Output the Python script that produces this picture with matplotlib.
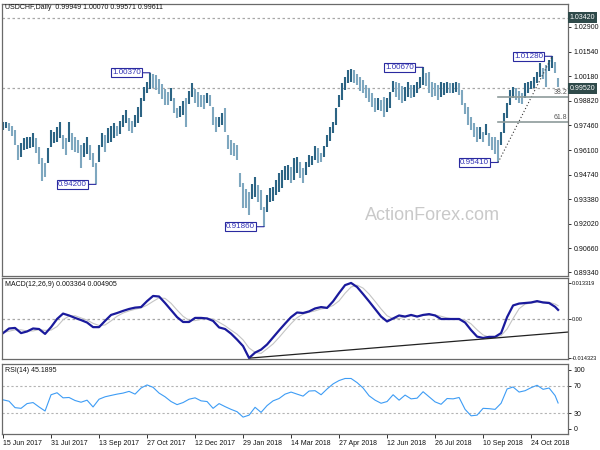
import matplotlib
matplotlib.use("Agg")
import matplotlib.pyplot as plt
import matplotlib.transforms as mtransforms
from matplotlib.collections import LineCollection
import numpy as np

plt.rcParams['font.family'] = ['Liberation Sans', 'DejaVu Sans']

# ---------------- data ----------------
symbol_header = "USDCHF,Daily  0.99949 1.00070 0.99571 0.99611"
macd_header = "MACD(12,26,9) 0.003364 0.004905"
rsi_header = "RSI(14) 45.1895"

BAR_DAYS = 2          # trading days covered by each drawn bar
bar_highs = [
    0.9766, 0.9766, 0.9757, 0.9742, 0.9721, 0.9638, 0.9647, 0.9674, 0.9684, 0.9680,
    0.9702, 0.9674, 0.9625, 0.9564, 0.9536, 0.9619, 0.9721, 0.9711, 0.9739, 0.9766,
    0.9693, 0.9674, 0.9766, 0.9702, 0.9684, 0.9665, 0.9638, 0.9650, 0.9680, 0.9638,
    0.9595, 0.9536, 0.9638, 0.9706, 0.9693, 0.9730, 0.9742, 0.9757, 0.9742, 0.9772,
    0.9803, 0.9831, 0.9785, 0.9770, 0.9803, 0.9850, 0.9895, 0.9956, 0.9987, 1.0037,
    1.0030, 1.0024, 1.0000, 0.9974, 0.9945, 0.9932, 0.9950, 0.9895, 0.9840, 0.9853,
    0.9882, 0.9895, 0.9938, 0.9982, 0.9945, 0.9932, 0.9914, 0.9914, 0.9923, 0.9914,
    0.9850, 0.9790, 0.9794, 0.9813, 0.9840, 0.9693, 0.9665, 0.9650, 0.9638, 0.9481,
    0.9426, 0.9393, 0.9380, 0.9422, 0.9463, 0.9417, 0.9389, 0.9297, 0.9361, 0.9398,
    0.9404, 0.9444, 0.9481, 0.9500, 0.9520, 0.9527, 0.9518, 0.9564, 0.9573, 0.9546,
    0.9509, 0.9546, 0.9582, 0.9577, 0.9632, 0.9619, 0.9595, 0.9632, 0.9693, 0.9735,
    0.9766, 0.9840, 0.9914, 0.9978, 1.0015, 1.0055, 1.0058, 1.0052, 1.0030, 1.0011,
    0.9996, 0.9969, 0.9950, 0.9923, 0.9895, 0.9895, 0.9886, 0.9904, 0.9895, 0.9932,
    0.9993, 0.9987, 0.9978, 0.9963, 0.9956, 0.9987, 0.9969, 0.9969, 0.9987, 1.0015,
    1.0067, 1.0037, 1.0043, 0.9987, 0.9978, 0.9969, 0.9987, 0.9978, 0.9987, 0.9978,
    0.9982, 0.9987, 0.9978, 0.9941, 0.9871, 0.9846, 0.9794, 0.9761, 0.9739, 0.9739,
    0.9711, 0.9754, 0.9702, 0.9684, 0.9680, 0.9665, 0.9711, 0.9816, 0.9871, 0.9941,
    0.9960, 0.9950, 0.9938, 0.9923, 0.9978, 0.9985, 0.9993, 1.0015, 1.0043, 1.0092,
    1.0066, 1.0079, 1.0110, 1.0128, 1.0098, 1.0007,
]
bar_lows = [
    0.9721, 0.9730, 0.9717, 0.9687, 0.9638, 0.9555, 0.9573, 0.9610, 0.9614, 0.9619,
    0.9625, 0.9592, 0.9533, 0.9441, 0.9463, 0.9536, 0.9625, 0.9647, 0.9656, 0.9674,
    0.9614, 0.9582, 0.9656, 0.9610, 0.9601, 0.9592, 0.9509, 0.9573, 0.9588, 0.9555,
    0.9518, 0.9420, 0.9546, 0.9625, 0.9601, 0.9650, 0.9656, 0.9674, 0.9687, 0.9698,
    0.9739, 0.9757, 0.9717, 0.9706, 0.9739, 0.9761, 0.9794, 0.9882, 0.9923, 0.9945,
    0.9950, 0.9942, 0.9919, 0.9890, 0.9858, 0.9858, 0.9882, 0.9813, 0.9785, 0.9790,
    0.9803, 0.9739, 0.9864, 0.9905, 0.9871, 0.9850, 0.9846, 0.9835, 0.9868, 0.9853,
    0.9748, 0.9711, 0.9739, 0.9748, 0.9711, 0.9614, 0.9582, 0.9577, 0.9555, 0.9407,
    0.9288, 0.9288, 0.9251, 0.9338, 0.9352, 0.9325, 0.9278, 0.9186, 0.9269, 0.9325,
    0.9330, 0.9361, 0.9380, 0.9400, 0.9444, 0.9444, 0.9426, 0.9444, 0.9481, 0.9454,
    0.9426, 0.9472, 0.9514, 0.9527, 0.9555, 0.9540, 0.9546, 0.9570, 0.9628, 0.9662,
    0.9702, 0.9748, 0.9849, 0.9886, 0.9941, 0.9982, 0.9987, 0.9978, 0.9967, 0.9938,
    0.9923, 0.9895, 0.9877, 0.9846, 0.9822, 0.9831, 0.9827, 0.9794, 0.9822, 0.9840,
    0.9932, 0.9904, 0.9886, 0.9868, 0.9882, 0.9904, 0.9895, 0.9904, 0.9923, 0.9950,
    0.9969, 0.9963, 0.9923, 0.9904, 0.9908, 0.9886, 0.9904, 0.9914, 0.9923, 0.9923,
    0.9923, 0.9932, 0.9914, 0.9858, 0.9809, 0.9748, 0.9720, 0.9680, 0.9656, 0.9669,
    0.9656, 0.9693, 0.9632, 0.9610, 0.9588, 0.9541, 0.9638, 0.9706, 0.9785, 0.9858,
    0.9895, 0.9886, 0.9868, 0.9864, 0.9895, 0.9926, 0.9945, 0.9950, 0.9982, 1.0015,
    1.0000, 0.9960, 1.0048, 1.0061, 1.0033, 0.9957,
]

IND_DAYS = 4          # trading days between indicator samples
macd_main = [
    -0.0052, -0.0035, -0.0033, -0.0052, -0.0046, -0.0035, -0.0037, -0.0055, -0.0030, 0.0000,
    0.0020, 0.0013, 0.0004, -0.0004, -0.0013, -0.0030, -0.0030, -0.0007, 0.0015, 0.0022,
    0.0030, 0.0037, 0.0042, 0.0044, 0.0066, 0.0085, 0.0083, 0.0059, 0.0033, 0.0007,
    -0.0011, -0.0011, 0.0004, 0.0004, 0.0002, -0.0007, -0.0031, -0.0037, -0.0054, -0.0076,
    -0.0100, -0.0144, -0.0124, -0.0113, -0.0094, -0.0068, -0.0042, -0.0017, 0.0007, 0.0024,
    0.0022, 0.0028, 0.0039, 0.0044, 0.0041, 0.0065, 0.0096, 0.0125, 0.0133, 0.0118,
    0.0092, 0.0065, 0.0037, 0.0009, -0.0009, 0.0002, 0.0013, 0.0009, 0.0015, 0.0009,
    0.0015, 0.0018, 0.0013, 0.0000, 0.0000, 0.0000, 0.0000, -0.0013, -0.0041, -0.0065,
    -0.0070, -0.0066, -0.0066, -0.0052, 0.0007, 0.0050, 0.0057, 0.0059, 0.0061, 0.0066,
    0.0061, 0.0059, 0.0045, 0.003364,
]
macd_signal = [
    -0.0050, -0.0045, -0.0040, -0.0040, -0.0044, -0.0044, -0.0039, -0.0042, -0.0041, -0.0028,
    -0.0003, 0.0011, 0.0012, 0.0004, -0.0004, -0.0016, -0.0024, -0.0022, -0.0007, 0.0010,
    0.0022, 0.0030, 0.0036, 0.0041, 0.0051, 0.0065, 0.0078, 0.0076, 0.0058, 0.0033,
    0.0010, -0.0005, -0.0006, -0.0001, 0.0003, 0.0000, -0.0012, -0.0025, -0.0041, -0.0056,
    -0.0077, -0.0107, -0.0123, -0.0127, -0.0110, -0.0092, -0.0068, -0.0042, -0.0017, 0.0005,
    0.0018, 0.0025, 0.0030, 0.0037, 0.0041, 0.0050, 0.0067, 0.0095, 0.0118, 0.0125,
    0.0114, 0.0092, 0.0065, 0.0037, 0.0012, 0.0001, 0.0002, 0.0008, 0.0012, 0.0011,
    0.0013, 0.0014, 0.0015, 0.0010, 0.0004, 0.0000, 0.0000, -0.0004, -0.0018, -0.0040,
    -0.0059, -0.0067, -0.0067, -0.0061, -0.0037, 0.0002, 0.0038, 0.0055, 0.0059, 0.0062,
    0.0063, 0.0062, 0.0055, 0.004905,
]
rsi_values = [
    49.8, 47.8, 38.4, 37.4, 44.3, 45.8, 39.4, 33.5, 57.2, 60.1,
    52.7, 53.2, 48.8, 46.3, 49.3, 39.4, 50.7, 54.2, 56.2, 58.1,
    59.6, 62.1, 58.1, 67.0, 71.5, 68.0, 59.6, 54.2, 47.3, 42.8,
    45.8, 50.7, 52.7, 48.3, 47.3, 37.4, 44.3, 39.9, 35.9, 32.5,
    24.6, 27.5, 38.9, 31.5, 41.4, 48.3, 51.7, 58.1, 61.1, 58.1,
    55.2, 62.6, 63.1, 57.2, 65.6, 73.0, 77.9, 80.9, 80.9, 74.9,
    67.0, 55.7, 49.3, 44.8, 47.3, 57.2, 49.3, 56.7, 51.2, 52.2,
    61.6, 54.2, 46.8, 43.3, 51.7, 51.2, 53.2, 35.9, 26.5, 27.5,
    37.4, 36.9, 35.9, 44.8, 65.6, 68.5, 61.1, 63.1, 67.5, 71.0,
    65.1, 67.0, 56.0, 45.19,
]

LABEL_DAYS = 32
date_labels = ['15 Jun 2017', '31 Jul 2017', '13 Sep 2017', '27 Oct 2017',
               '12 Dec 2017', '29 Jan 2018', '14 Mar 2018', '27 Apr 2018',
               '12 Jun 2018', '26 Jul 2018', '10 Sep 2018', '24 Oct 2018']
price_ticks = [1.02900, 1.01540, 1.00180, 0.98820, 0.97460, 0.96100,
               0.94740, 0.93380, 0.92020, 0.90660, 0.89340]
price_lines = [1.03420, 0.99520]

swing_bars = [49, 31, 87, 140, 165, 183]
swing_text = ['1.00370', '0.94200', '0.91860', '1.00670', '0.95410', '1.01280']

fib_low_bar, fib_high_bar = 165, 183
fib_levels = [38.2, 61.8]

macd_trend_days = [165, 377]
macd_trend_values = [-0.0144, -0.0048]
macd_ticks = [0.013319, 0.0, -0.014323]
macd_tick_labels = ['0.013319', '0.00', '-0.014323']
rsi_levels = [70, 30]

# ---------------- layout ----------------
W, H = 600, 450
fig = plt.figure(figsize=(W / 100, H / 100), dpi=100)
fig.patch.set_facecolor('white')


def rect(x0, y0, x1, y1):
    return [x0 / W, 1 - y1 / H, (x1 - x0) / W, (y1 - y0) / H]


ax = fig.add_axes(rect(2, 4, 568, 276))
axm = fig.add_axes(rect(2, 278, 568, 359), sharex=ax)
axr = fig.add_axes(rect(2, 364, 568, 434), sharex=ax)

SMALL = 5
spine_col = '#6a6a6a'
for a in (ax, axm, axr):
    for s in a.spines.values():
        s.set_color(spine_col)
        s.set_linewidth(0.9)
    a.yaxis.tick_right()
    a.tick_params(axis='y', direction='out', length=2.5, width=0.6, pad=1.5,
                  labelsize=SMALL, colors='#111111')
    a.set_facecolor('white')

ax.set_xlim(-0.7, 376.6)
ax.tick_params(axis='x', bottom=False, labelbottom=False)
axm.tick_params(axis='x', bottom=False, labelbottom=False)

# ---------------- price panel ----------------
ax.set_ylim(0.89135, 1.04171)
n_bars = len(bar_highs)
days = np.arange(n_bars) * BAR_DAYS
highs = np.array(bar_highs)
lows = np.array(bar_lows)
mids = (highs + lows) / 2
segs = [[(d, lo), (d, hi)] for d, lo, hi in zip(days, lows, highs)]
cols = ['#2c6484' if (i == 0 or mids[i] >= mids[i - 1]) else '#7ea7bf'
        for i in range(n_bars)]
ax.add_collection(LineCollection(segs, colors=cols, linewidths=1.5))

for p in price_lines:
    ax.axhline(p, color='#a8a8a8', ls=(0, (2, 2)), lw=0.9, zorder=1)
ax.set_yticks(price_ticks)
ax.set_yticklabels([f'{t:.5f}' for t in price_ticks])
ytrans = mtransforms.blended_transform_factory(ax.transAxes, ax.transData)
for p in price_lines:
    ax.text(1.003, p, f'{p:.5f}', transform=ytrans, ha='left', va='center',
            fontsize=SMALL, color='white', clip_on=False,
            bbox=dict(boxstyle='square,pad=0.3', fc='#2f4a4a', ec='none'))

# swing labels
for b, t in zip(swing_bars, swing_text):
    ax.annotate(t, xy=(b * BAR_DAYS, float(t)), xytext=(-9, 0),
                textcoords='offset pixels', ha='right', va='center',
                fontsize=5.8, color='#3232b4',
                bbox=dict(boxstyle='square,pad=0.12', fc='white', ec='#2a2aa0', lw=0.8),
                arrowprops=dict(arrowstyle='-', color='#2a2aa0', lw=0.8,
                                shrinkA=0, shrinkB=0))

# fibonacci retracement
f_lo = bar_lows[fib_low_bar]
f_hi = bar_highs[fib_high_bar]
ax.plot([fib_low_bar * BAR_DAYS, fib_high_bar * BAR_DAYS], [f_lo, f_hi],
        color='#333333', ls=(0, (1, 2)), lw=0.8)
xmax = ax.get_xlim()[1]
for lev in fib_levels:
    price = f_hi - lev / 100 * (f_hi - f_lo)
    ax.plot([fib_low_bar * BAR_DAYS, xmax], [price, price], color='#8d9b9b', lw=1.2)
    ax.text(xmax - 0.6, price + 0.0003, f'{lev:.1f}', ha='right', va='bottom',
            fontsize=SMALL, color='#555555')

ax.text(0.76, 0.224, 'ActionForex.com', transform=ax.transAxes, ha='center',
        va='center', fontsize=13, color='#c9c9c9')
ax.text(0.0055, 0.988, symbol_header, transform=ax.transAxes, ha='left',
        va='center', fontsize=SMALL, color='#111111')

# ---------------- MACD panel ----------------
last_day = days[-1]
ind_days = np.minimum(np.arange(len(macd_main)) * IND_DAYS, last_day)
axm.set_ylim(-0.01476, 0.01513)
axm.axhline(0, color='#a8a8a8', ls=(0, (2, 2)), lw=0.9)
axm.plot(ind_days, macd_signal, color='#c4c4c4', lw=0.8)
axm.plot(ind_days, macd_main, color='#1a1a9c', lw=1.6)
axm.plot(macd_trend_days, macd_trend_values, color='#222222', lw=0.9)
axm.set_yticks(macd_ticks)
axm.set_yticklabels(macd_tick_labels)
axm.tick_params(axis='y', labelsize=4.0, length=2.0, pad=0.8)
axm.text(0.0055, 0.914, macd_header, transform=axm.transAxes, ha='left',
         va='center', fontsize=SMALL, color='#111111')

# ---------------- RSI panel ----------------
axr.set_ylim(0, 102)
for lv in rsi_levels:
    axr.axhline(lv, color='#b4b4b4', ls=(0, (2, 2)), lw=0.8)
axr.plot(np.minimum(np.arange(len(rsi_values)) * IND_DAYS, last_day), rsi_values,
         color='#3d9cf5', lw=0.8)
axr.set_yticks([93.3, 70, 30, 7.3])
axr.set_yticklabels(['100', '70', '30', '0'])
axr.text(0.0055, 0.9, rsi_header, transform=axr.transAxes, ha='left',
         va='center', fontsize=SMALL, color='#111111')

axr.set_xticks([i * LABEL_DAYS for i in range(len(date_labels))])
axr.set_xticklabels(date_labels)
axr.tick_params(axis='x', direction='out', length=3, width=0.6, pad=1.5,
                labelsize=SMALL, colors='#111111')
for lbl in axr.get_xticklabels():
    lbl.set_horizontalalignment('left')

fig.savefig('out.png', dpi=100, facecolor='white')
